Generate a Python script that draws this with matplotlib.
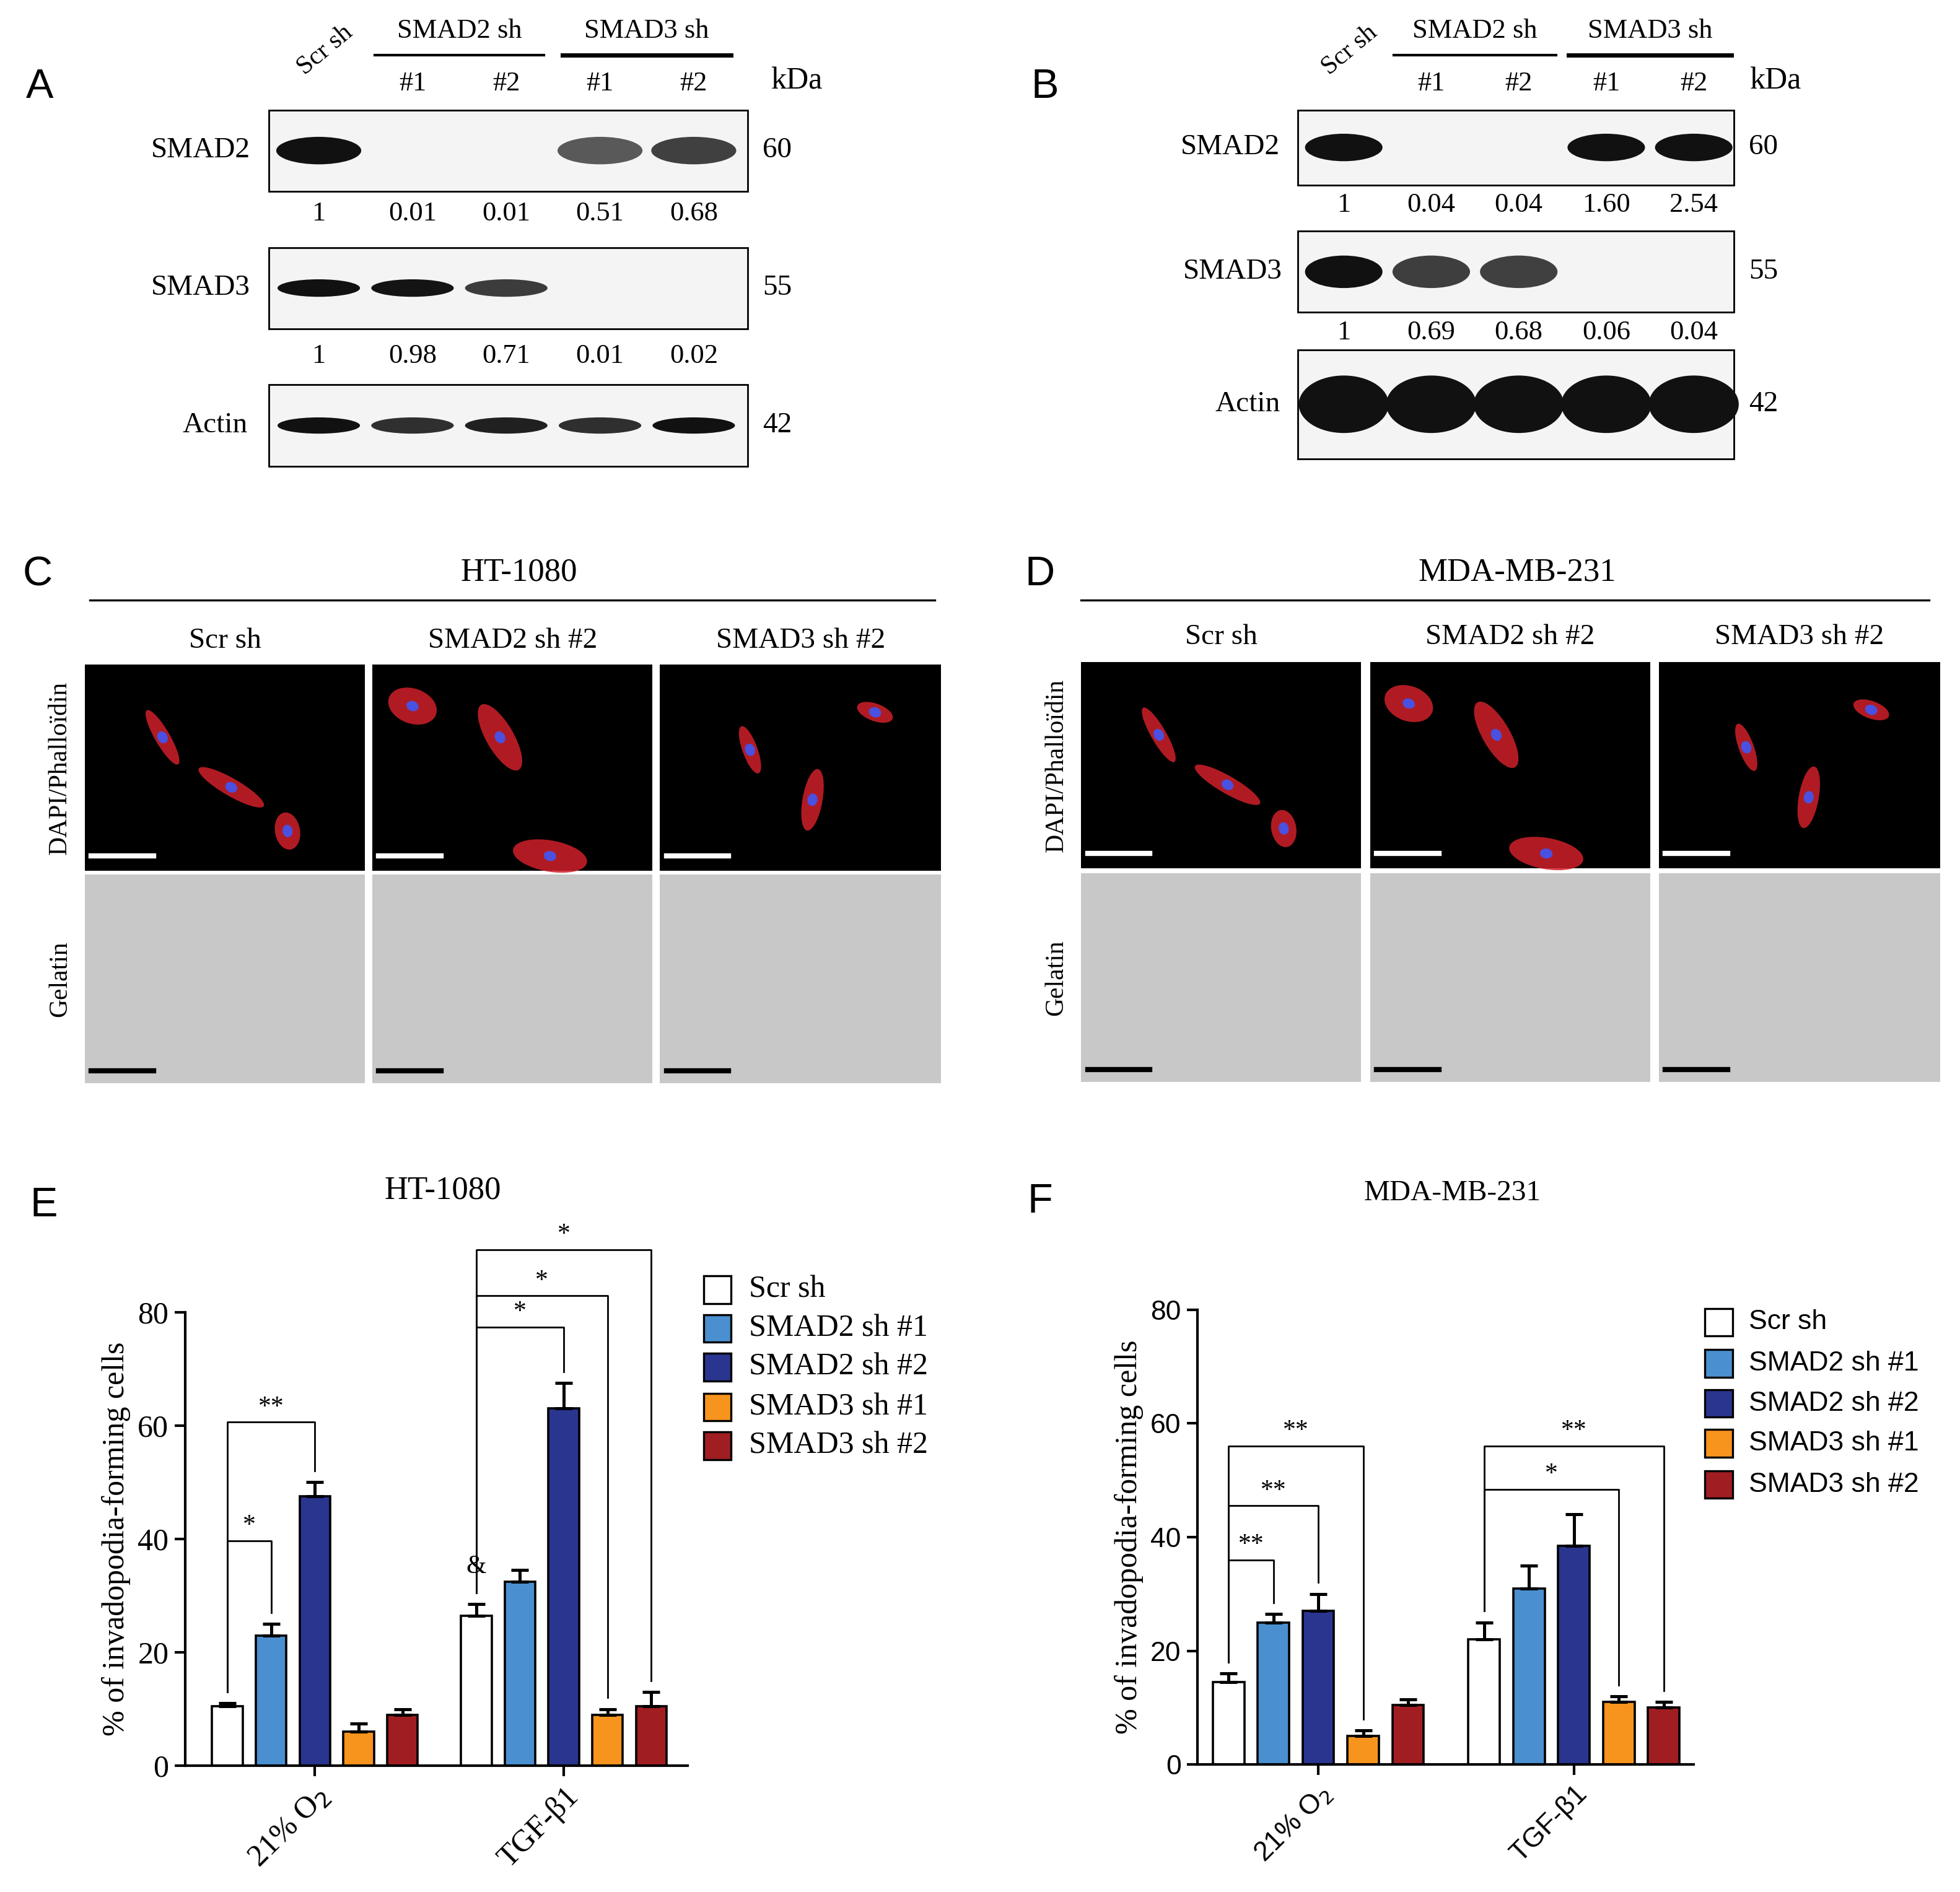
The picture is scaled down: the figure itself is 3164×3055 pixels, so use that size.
import matplotlib
matplotlib.use("Agg")
import matplotlib.pyplot as plt
from matplotlib.patches import Rectangle, Ellipse
import numpy as np

# ---------------- data ----------------
lanes = ["Scr sh", "#1", "#2", "#1", "#2"]
A_smad2 = [1, 0.01, 0.01, 0.51, 0.68]
A_smad3 = [1, 0.98, 0.71, 0.01, 0.02]
A_actin = [1, 0.8, 0.9, 0.8, 1.0]
B_smad2 = [1, 0.04, 0.04, 1.60, 2.54]
B_smad3 = [1, 0.69, 0.68, 0.06, 0.04]
B_actin = [1, 1, 1, 1, 1]
A_smad2_lbl = ["1", "0.01", "0.01", "0.51", "0.68"]
A_smad3_lbl = ["1", "0.98", "0.71", "0.01", "0.02"]
B_smad2_lbl = ["1", "0.04", "0.04", "1.60", "2.54"]
B_smad3_lbl = ["1", "0.69", "0.68", "0.06", "0.04"]

series = ["Scr sh", "SMAD2 sh #1", "SMAD2 sh #2", "SMAD3 sh #1", "SMAD3 sh #2"]
colors = ["white", "#4a90d0", "#2a3590", "#f7941d", "#a01e22"]
groups = ["21% O$_2$", "TGF-β1"]
E_vals = [[10.5, 23, 47.5, 6, 9], [26.5, 32.5, 63, 9, 10.5]]
E_err = [[0.5, 2, 2.5, 1.5, 1], [2, 2, 4.5, 1, 2.5]]
F_vals = [[14.5, 25, 27, 5, 10.5], [22, 31, 38.5, 11, 10]]
F_err = [[1.5, 1.5, 3, 1, 1], [3, 4, 5.5, 1, 1]]

W, H = 1568, 1514
fig = plt.figure(figsize=(15.82, 15.275), dpi=200)
ov = fig.add_axes([0, 0, 1, 1])
ov.set_xlim(0, W); ov.set_ylim(H, 0); ov.axis("off")
SERIF = "Liberation Serif"
SANS = "Liberation Sans"

def T(x, y, s, size=15, ha="center", va="center", fam=SERIF, **kw):
    ov.text(x, y, s, fontsize=size, ha=ha, va=va, family=fam, **kw)

# ---------------- blots ----------------
def blot(x0, x1, y0, y1, lanex, inten, bw, bh, label, kda, lblx):
    ov.add_patch(Rectangle((x0, y0), x1 - x0, y1 - y0, fc="#f4f4f4", ec="black", lw=1))
    yc = (y0 + y1) / 2
    for xc, v in zip(lanex, inten):
        if v < 0.1:
            continue
        a = min(1.0, 0.35 + 0.65 * min(v, 1.0))
        ov.add_patch(Ellipse((xc, yc), bw, bh, fc="#111111", alpha=a, lw=0))
    T(lblx, yc, label, 17, ha="right")
    T(x1 + 12, yc, kda, 17, ha="left")

def header(lanex, y_top, line_y, kdax):
    T(lanex[0] + 5, y_top - 5, "Scr sh", 15, rotation=40)
    T((lanex[1] + lanex[2]) / 2, 25, "SMAD2 sh", 16)
    T((lanex[3] + lanex[4]) / 2, 25, "SMAD3 sh", 16)
    ov.plot([lanex[1] - 30, lanex[2] + 30], [line_y, line_y], color="black", lw=1.5)
    ov.plot([lanex[3] - 30, lanex[4] + 30], [line_y, line_y], color="black", lw=2.5)
    for i in range(1, 5):
        T(lanex[i], 67, lanes[i], 16)
    T(kdax, 65, "kDa", 18, ha="left")

lA = [255, 330, 405, 480, 555]
header(lA, 45, 44, 617)
T(32, 70, "A", 24, fam=SANS)
blot(215, 598, 88, 153, lA, A_smad2, 68, 22, "SMAD2", "60", 200)
for x, s in zip(lA, A_smad2_lbl): T(x, 171, s, 16)
blot(215, 598, 198, 263, lA, A_smad3, 66, 14, "SMAD3", "55", 200)
for x, s in zip(lA, A_smad3_lbl): T(x, 285, s, 16)
blot(215, 598, 308, 373, lA, A_actin, 66, 13, "Actin", "42", 198)

lB = [1075, 1145, 1215, 1285, 1355]
header(lB, 45, 44, 1400)
T(836, 70, "B", 24, fam=SANS)
blot(1038, 1387, 88, 148, lB, B_smad2, 62, 22, "SMAD2", "60", 1024)
for x, s in zip(lB, B_smad2_lbl): T(x, 164, s, 16)
blot(1038, 1387, 185, 250, lB, B_smad3, 62, 26, "SMAD3", "55", 1026)
for x, s in zip(lB, B_smad3_lbl): T(x, 266, s, 16)
blot(1038, 1387, 280, 367, lB, B_actin, 72, 46, "Actin", "42", 1024)

# ---------------- microscopy panels ----------------
cells = [[(130, 590, 50, 12, 60), (185, 630, 60, 14, 30), (230, 665, 30, 20, 80)],
         [(330, 565, 40, 28, 20), (400, 590, 60, 22, 60), (440, 685, 60, 25, 10)],
         [(600, 600, 40, 12, 70), (650, 640, 50, 16, 100), (700, 570, 30, 14, 20)]]
def micro(xs, ytop, ybot, title_y, titles, line, head, headx, letter, lx, cellsets):
    T(headx, line[2] - 22, head, 19)
    ov.plot([line[0], line[1]], [line[2], line[2]], color="black", lw=1.2)
    T(lx, line[2] - 20, letter, 24, fam=SANS)
    for (a, b), t, cs in zip(xs, titles, cellsets):
        T((a + b) / 2, title_y, t, 17)
        ov.add_patch(Rectangle((a, ytop[0]), b - a, ytop[1] - ytop[0], fc="black", ec="none"))
        ov.add_patch(Rectangle((a, ybot[0]), b - a, ybot[1] - ybot[0], fc="#c8c8c8", ec="none"))
        for (cx, cy, w, h, ang) in cs:
            ov.add_patch(Ellipse((cx, cy), w, h, angle=ang, fc="#d0202a", alpha=0.85))
            ov.add_patch(Ellipse((cx, cy), 10, 8, angle=ang, fc="#4a50e0"))
        ov.plot([a + 5, a + 55], [ytop[1] - 12] * 2, color="white", lw=3)
        ov.plot([a + 5, a + 55], [ybot[1] - 10] * 2, color="black", lw=3)
    T(xs[0][0] - 20, (ytop[0] + ytop[1]) / 2, "DAPI/Phalloïdin", 15, rotation=90)
    T(xs[0][0] - 20, (ybot[0] + ybot[1]) / 2, "Gelatin", 15, rotation=90)

ttl = ["Scr sh", "SMAD2 sh #2", "SMAD3 sh #2"]
micro([(68, 292), (298, 522), (528, 753)], (532, 697), (700, 867), 513, ttl,
      (72, 748, 480), "HT-1080", 415, "C", 30, cells)
cellsD = [[(x + 797, y - 2, w, h, an) for (x, y, w, h, an) in c] for c in cells]
micro([(865, 1089), (1096, 1320), (1327, 1552)], (530, 695), (699, 866), 510, ttl,
      (865, 1543, 480), "MDA-MB-231", 1214, "D", 832, cellsD)

# ---------------- bar charts ----------------
def px2fig(x0, x1, y0, y1):
    return [x0 / W, 1 - y1 / H, (x1 - x0) / W, (y1 - y0) / H]

def bars(rect, vals, errs, xl, brackets, tickfam, ticksize):
    ax = fig.add_axes(rect)
    pos = [np.arange(5), np.arange(5) + 5.69]
    for g in range(2):
        for i in range(5):
            ax.bar(pos[g][i], vals[g][i], 0.7, color=colors[i], edgecolor="black", lw=1.3, zorder=2)
            ax.errorbar(pos[g][i], vals[g][i], yerr=[[0], [errs[g][i]]], color="black",
                        capsize=5, lw=1.8, capthick=1.8, zorder=3)
    ax.set_xlim(*xl); ax.set_ylim(0, 80)
    ax.set_yticks([0, 20, 40, 60, 80])
    ax.set_xticks([2, 7.69]); ax.set_xticklabels(groups, rotation=45, ha="right", rotation_mode="anchor")
    for lab in ax.get_xticklabels() + ax.get_yticklabels():
        lab.set_family(tickfam); lab.set_fontsize(ticksize)
    for s in ["top", "right"]:
        ax.spines[s].set_visible(False)
    for s in ["left", "bottom"]:
        ax.spines[s].set_linewidth(1.5)
    ax.tick_params(width=1.5, length=6)
    ax.set_ylabel("% of invadopodia-forming cells", family=SERIF, fontsize=18)
    for (g, j, y, s) in brackets:
        x0, x1 = pos[g][0], pos[g][j]
        b0 = vals[g][0] + errs[g][0] + 2
        b1 = vals[g][j] + errs[g][j] + 2
        ax.plot([x0, x0, x1, x1], [b0, y, y, b1], color="black", lw=1, clip_on=False)
        ax.text((x0 + x1) / 2, y + 0.5, s, ha="center", va="bottom", fontsize=15, family=SERIF)
    return ax, pos

axE, posE = bars(px2fig(148, 550, 1050, 1413), E_vals, E_err, (-0.97, 10.52),
                 [(0, 1, 39.7, "*"), (0, 2, 60.6, "**"), (1, 2, 77.4, "*"), (1, 3, 82.9, "*"), (1, 4, 91, "*")],
                 SERIF, 18)
axE.text(posE[1][0], 34, "&", ha="center", fontsize=15, family=SERIF)
axF, posF = bars(px2fig(958, 1355, 1048, 1412), F_vals, F_err, (-0.69, 10.36),
                 [(0, 1, 36, "**"), (0, 2, 45.5, "**"), (0, 3, 56, "**"), (1, 3, 48.4, "*"), (1, 4, 56, "**")],
                 SANS, 16)

T(35, 965, "E", 24, fam=SANS); T(354, 953, "HT-1080", 19)
T(832, 962, "F", 24, fam=SANS); T(1162, 955, "MDA-MB-231", 17)

def legend(bx, tx, ys, fam, size):
    for c, s, y in zip(colors, series, ys):
        ov.add_patch(Rectangle((bx, y - 11), 22, 22, fc=c, ec="black", lw=1.2))
        T(tx, y, s, size, ha="left", fam=fam)
legend(563, 599, [1032, 1063, 1094, 1126, 1157], SERIF, 18)
legend(1364, 1399, [1058, 1091, 1123, 1155, 1188], SANS, 16)

fig.savefig("out.png", dpi=200)
